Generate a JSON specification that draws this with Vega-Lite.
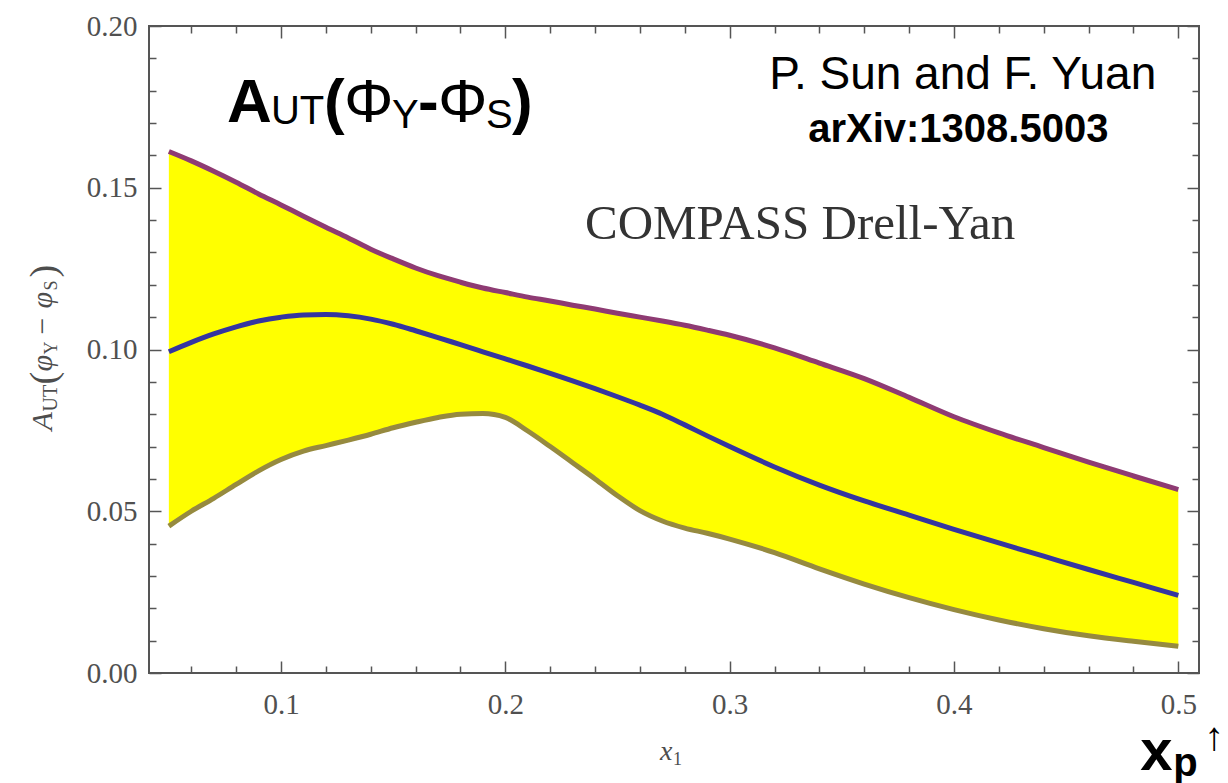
{
  "$schema": "https://vega.github.io/schema/vega-lite/v6.json",
  "width": 1050,
  "height": 647,
  "autosize": {"type": "none"},
  "padding": {"left": 149, "top": 26, "right": 29, "bottom": 110},
  "background": "white",
  "config": {
    "view": {"stroke": "#555555", "strokeWidth": 2},
    "axis": {"grid": false, "domain": false, "title": null, "labelFlush": false, "labelOverlap": false, "labelBound": false, "tickColor": "#555555", "tickWidth": 1.5}
  },
  "datasets": {
    "curve": [
      {"x": 0.05, "lo": 0.0454, "mid": 0.0993, "hi": 0.1612},
      {"x": 0.06, "lo": 0.0500, "mid": 0.1022, "hi": 0.1583},
      {"x": 0.07, "lo": 0.0540, "mid": 0.1048, "hi": 0.1551},
      {"x": 0.08, "lo": 0.0583, "mid": 0.1070, "hi": 0.1517},
      {"x": 0.09, "lo": 0.0625, "mid": 0.1088, "hi": 0.1481},
      {"x": 0.10, "lo": 0.0660, "mid": 0.1100, "hi": 0.1447},
      {"x": 0.11, "lo": 0.0686, "mid": 0.1107, "hi": 0.1412},
      {"x": 0.12, "lo": 0.0703, "mid": 0.1108, "hi": 0.1378},
      {"x": 0.13, "lo": 0.0720, "mid": 0.1104, "hi": 0.1345},
      {"x": 0.14, "lo": 0.0738, "mid": 0.1094, "hi": 0.1310},
      {"x": 0.15, "lo": 0.0758, "mid": 0.1078, "hi": 0.1280},
      {"x": 0.16, "lo": 0.0775, "mid": 0.1058, "hi": 0.1252},
      {"x": 0.17, "lo": 0.0790, "mid": 0.1037, "hi": 0.1228},
      {"x": 0.18, "lo": 0.0800, "mid": 0.1015, "hi": 0.1208},
      {"x": 0.19, "lo": 0.0802, "mid": 0.0993, "hi": 0.1190},
      {"x": 0.20, "lo": 0.0790, "mid": 0.0971, "hi": 0.1176},
      {"x": 0.21, "lo": 0.0748, "mid": 0.0949, "hi": 0.1162},
      {"x": 0.22, "lo": 0.0700, "mid": 0.0926, "hi": 0.1150},
      {"x": 0.23, "lo": 0.0650, "mid": 0.0903, "hi": 0.1137},
      {"x": 0.24, "lo": 0.0600, "mid": 0.0879, "hi": 0.1125},
      {"x": 0.25, "lo": 0.0548, "mid": 0.0854, "hi": 0.1112},
      {"x": 0.26, "lo": 0.0502, "mid": 0.0828, "hi": 0.1100},
      {"x": 0.27, "lo": 0.0470, "mid": 0.0800, "hi": 0.1088},
      {"x": 0.28, "lo": 0.0448, "mid": 0.0767, "hi": 0.1075},
      {"x": 0.29, "lo": 0.0432, "mid": 0.0733, "hi": 0.1060},
      {"x": 0.30, "lo": 0.0414, "mid": 0.0700, "hi": 0.1044},
      {"x": 0.32, "lo": 0.0372, "mid": 0.0637, "hi": 0.1005},
      {"x": 0.34, "lo": 0.0322, "mid": 0.0581, "hi": 0.0958},
      {"x": 0.36, "lo": 0.0275, "mid": 0.0532, "hi": 0.0910},
      {"x": 0.38, "lo": 0.0233, "mid": 0.0488, "hi": 0.0852},
      {"x": 0.40, "lo": 0.0196, "mid": 0.0444, "hi": 0.0792},
      {"x": 0.42, "lo": 0.0164, "mid": 0.0402, "hi": 0.0742},
      {"x": 0.44, "lo": 0.0137, "mid": 0.0361, "hi": 0.0697},
      {"x": 0.46, "lo": 0.0115, "mid": 0.0320, "hi": 0.0652},
      {"x": 0.48, "lo": 0.0098, "mid": 0.0280, "hi": 0.0609},
      {"x": 0.50, "lo": 0.0083, "mid": 0.0240, "hi": 0.0567}
    ],
    "aut": [{"x": 0.0759, "y": 0.1703}],
    "sun": [{"x": 0.3176, "y": 0.1804, "label": "P. Sun and F. Yuan"}],
    "arxiv": [{"x": 0.3350, "y": 0.1641, "label": "arXiv:1308.5003"}],
    "compass": [{"x": 0.2355, "y": 0.1341, "label": "COMPASS Drell-Yan"}],
    "ytitle": [{"x": -0.0021, "y": 0.075}],
    "xtitle": [{"x": 0.269, "y": -0.027}],
    "xp": [{"x": 0.483, "y": -0.0301}]
  },
  "resolve": {"axis": {"x": "independent", "y": "independent"}},
  "layer": [
    {
      "data": {"name": "curve"},
      "mark": {"type": "area", "color": "#FFFF00", "interpolate": "monotone", "opacity": 1},
      "encoding": {
        "x": {"field": "x", "type": "quantitative", "scale": {"domain": [0.04115, 0.50923], "nice": false, "zero": false},
          "axis": {"orient": "bottom", "values": [0.1, 0.2, 0.3, 0.4, 0.5], "format": ".1f", "tickSize": -12, "labelPadding": 29, "labelFont": "Liberation Serif", "labelFontSize": 29, "labelColor": "#505050"}},
        "y": {"field": "lo", "type": "quantitative", "scale": {"domain": [0, 0.2], "nice": false, "zero": false},
          "axis": {"orient": "left", "values": [0, 0.05, 0.1, 0.15, 0.2], "format": ".2f", "tickSize": -12, "labelPadding": 24, "labelFont": "Liberation Serif", "labelFontSize": 29, "labelColor": "#505050"}},
        "y2": {"field": "hi"}
      }
    },
    {
      "data": {"name": "curve"},
      "mark": {"type": "line", "color": "#8E3B73", "strokeWidth": 5, "interpolate": "monotone"},
      "encoding": {
        "x": {"field": "x", "type": "quantitative", "scale": {"domain": [0.04115, 0.50923], "nice": false, "zero": false},
          "axis": {"orient": "bottom", "values": [0.06, 0.08, 0.12, 0.14, 0.16, 0.18, 0.22, 0.24, 0.26, 0.28, 0.32, 0.34, 0.36, 0.38, 0.42, 0.44, 0.46, 0.48], "tickSize": -7, "labels": false}},
        "y": {"field": "hi", "type": "quantitative", "scale": {"domain": [0, 0.2], "nice": false, "zero": false},
          "axis": {"orient": "left", "values": [0.01, 0.02, 0.03, 0.04, 0.06, 0.07, 0.08, 0.09, 0.11, 0.12, 0.13, 0.14, 0.16, 0.17, 0.18, 0.19], "tickSize": -7, "labels": false}}
      }
    },
    {
      "data": {"name": "curve"},
      "mark": {"type": "line", "color": "#3535A0", "strokeWidth": 5, "interpolate": "monotone"},
      "encoding": {
        "x": {"field": "x", "type": "quantitative", "scale": {"domain": [0.04115, 0.50923], "nice": false, "zero": false},
          "axis": {"orient": "top", "values": [0.1, 0.2, 0.3, 0.4, 0.5], "tickSize": -12, "labels": false}},
        "y": {"field": "mid", "type": "quantitative", "scale": {"domain": [0, 0.2], "nice": false, "zero": false},
          "axis": {"orient": "right", "values": [0, 0.05, 0.1, 0.15, 0.2], "tickSize": -12, "labels": false}}
      }
    },
    {
      "data": {"name": "curve"},
      "mark": {"type": "line", "color": "#968A3F", "strokeWidth": 5, "interpolate": "monotone"},
      "encoding": {
        "x": {"field": "x", "type": "quantitative", "scale": {"domain": [0.04115, 0.50923], "nice": false, "zero": false},
          "axis": {"orient": "top", "values": [0.06, 0.08, 0.12, 0.14, 0.16, 0.18, 0.22, 0.24, 0.26, 0.28, 0.32, 0.34, 0.36, 0.38, 0.42, 0.44, 0.46, 0.48], "tickSize": -7, "labels": false}},
        "y": {"field": "lo", "type": "quantitative", "scale": {"domain": [0, 0.2], "nice": false, "zero": false},
          "axis": {"orient": "right", "values": [0.01, 0.02, 0.03, 0.04, 0.06, 0.07, 0.08, 0.09, 0.11, 0.12, 0.13, 0.14, 0.16, 0.17, 0.18, 0.19], "tickSize": -7, "labels": false}}
      }
    },
    {
      "data": {"name": "aut"},
      "encoding": {
        "x": {"field": "x", "type": "quantitative", "axis": null, "scale": {"domain": [0.04115, 0.50923], "nice": false, "zero": false}},
        "y": {"field": "y", "type": "quantitative", "axis": null, "scale": {"domain": [0, 0.2], "nice": false, "zero": false}}
      },
      "layer": [
        {"mark": {"type": "text", "text": "A", "font": "Liberation Sans", "fontWeight": "bold", "fontSize": 62, "align": "left", "baseline": "alphabetic", "color": "#000000", "dx": 0}},
        {"mark": {"type": "text", "text": "UT", "font": "Liberation Sans", "fontWeight": "normal", "fontSize": 40, "align": "left", "baseline": "alphabetic", "color": "#000000", "dx": 44, "dy": 2}},
        {"mark": {"type": "text", "text": "(", "font": "Liberation Sans", "fontWeight": "bold", "fontSize": 62, "align": "left", "baseline": "alphabetic", "color": "#000000", "dx": 97}},
        {"mark": {"type": "text", "text": "Φ", "font": "Liberation Sans", "fontWeight": "normal", "fontSize": 62, "align": "left", "baseline": "alphabetic", "color": "#000000", "dx": 117}},
        {"mark": {"type": "text", "text": "Y", "font": "Liberation Sans", "fontWeight": "normal", "fontSize": 40, "align": "left", "baseline": "alphabetic", "color": "#000000", "dx": 165, "dy": 6}},
        {"mark": {"type": "text", "text": "-", "font": "Liberation Sans", "fontWeight": "bold", "fontSize": 62, "align": "left", "baseline": "alphabetic", "color": "#000000", "dx": 191}},
        {"mark": {"type": "text", "text": "Φ", "font": "Liberation Sans", "fontWeight": "normal", "fontSize": 62, "align": "left", "baseline": "alphabetic", "color": "#000000", "dx": 211}},
        {"mark": {"type": "text", "text": "S", "font": "Liberation Sans", "fontWeight": "normal", "fontSize": 40, "align": "left", "baseline": "alphabetic", "color": "#000000", "dx": 259, "dy": 6}},
        {"mark": {"type": "text", "text": ")", "font": "Liberation Sans", "fontWeight": "bold", "fontSize": 62, "align": "left", "baseline": "alphabetic", "color": "#000000", "dx": 285}}
      ]
    },
    {
      "data": {"name": "sun"},
      "mark": {"type": "text", "font": "Liberation Sans", "fontSize": 46, "align": "left", "baseline": "alphabetic", "color": "#000000"},
      "encoding": {
        "x": {"field": "x", "type": "quantitative", "axis": null, "scale": {"domain": [0.04115, 0.50923], "nice": false, "zero": false}},
        "y": {"field": "y", "type": "quantitative", "axis": null, "scale": {"domain": [0, 0.2], "nice": false, "zero": false}},
        "text": {"field": "label"}
      }
    },
    {
      "data": {"name": "arxiv"},
      "mark": {"type": "text", "font": "Liberation Sans", "fontWeight": "bold", "fontSize": 40, "align": "left", "baseline": "alphabetic", "color": "#000000"},
      "encoding": {
        "x": {"field": "x", "type": "quantitative", "axis": null, "scale": {"domain": [0.04115, 0.50923], "nice": false, "zero": false}},
        "y": {"field": "y", "type": "quantitative", "axis": null, "scale": {"domain": [0, 0.2], "nice": false, "zero": false}},
        "text": {"field": "label"}
      }
    },
    {
      "data": {"name": "compass"},
      "mark": {"type": "text", "font": "Liberation Serif", "fontSize": 49, "align": "left", "baseline": "alphabetic", "color": "#333333"},
      "encoding": {
        "x": {"field": "x", "type": "quantitative", "axis": null, "scale": {"domain": [0.04115, 0.50923], "nice": false, "zero": false}},
        "y": {"field": "y", "type": "quantitative", "axis": null, "scale": {"domain": [0, 0.2], "nice": false, "zero": false}},
        "text": {"field": "label"}
      }
    },
    {
      "data": {"name": "ytitle"},
      "encoding": {
        "x": {"field": "x", "type": "quantitative", "axis": null, "scale": {"domain": [0.04115, 0.50923], "nice": false, "zero": false}},
        "y": {"field": "y", "type": "quantitative", "axis": null, "scale": {"domain": [0, 0.2], "nice": false, "zero": false}}
      },
      "layer": [
        {"mark": {"type": "text", "text": "A", "angle": 270, "font": "Liberation Serif", "fontStyle": "italic", "fontSize": 30, "align": "left", "baseline": "alphabetic", "color": "#4d4d4d", "dx": 0}},
        {"mark": {"type": "text", "text": "UT", "angle": 270, "font": "Liberation Serif", "fontSize": 20, "align": "left", "baseline": "alphabetic", "color": "#4d4d4d", "dx": 19, "dy": 5}},
        {"mark": {"type": "text", "text": "(", "angle": 270, "font": "Liberation Serif", "fontSize": 38, "align": "left", "baseline": "alphabetic", "color": "#4d4d4d", "dx": 46, "dy": 4}},
        {"mark": {"type": "text", "text": "φ", "angle": 270, "font": "Liberation Serif", "fontStyle": "italic", "fontSize": 30, "align": "left", "baseline": "alphabetic", "color": "#4d4d4d", "dx": 59}},
        {"mark": {"type": "text", "text": "Y", "angle": 270, "font": "Liberation Serif", "fontSize": 18, "align": "left", "baseline": "alphabetic", "color": "#4d4d4d", "dx": 76, "dy": 5}},
        {"mark": {"type": "text", "text": "−", "angle": 270, "font": "Liberation Serif", "fontSize": 30, "align": "left", "baseline": "alphabetic", "color": "#4d4d4d", "dx": 96}},
        {"mark": {"type": "text", "text": "φ", "angle": 270, "font": "Liberation Serif", "fontStyle": "italic", "fontSize": 30, "align": "left", "baseline": "alphabetic", "color": "#4d4d4d", "dx": 122}},
        {"mark": {"type": "text", "text": "S", "angle": 270, "font": "Liberation Serif", "fontSize": 18, "align": "left", "baseline": "alphabetic", "color": "#4d4d4d", "dx": 140, "dy": 5}},
        {"mark": {"type": "text", "text": ")", "angle": 270, "font": "Liberation Serif", "fontSize": 38, "align": "left", "baseline": "alphabetic", "color": "#4d4d4d", "dx": 153, "dy": 4}}
      ]
    },
    {
      "data": {"name": "xtitle"},
      "encoding": {
        "x": {"field": "x", "type": "quantitative", "axis": null, "scale": {"domain": [0.04115, 0.50923], "nice": false, "zero": false}},
        "y": {"field": "y", "type": "quantitative", "axis": null, "scale": {"domain": [0, 0.2], "nice": false, "zero": false}}
      },
      "layer": [
        {"mark": {"type": "text", "text": "x", "font": "Liberation Serif", "fontStyle": "italic", "fontSize": 28, "align": "left", "baseline": "alphabetic", "color": "#4d4d4d"}},
        {"mark": {"type": "text", "text": "1", "font": "Liberation Serif", "fontSize": 18, "align": "left", "baseline": "alphabetic", "color": "#4d4d4d", "dx": 13, "dy": 5}}
      ]
    },
    {
      "data": {"name": "xp"},
      "encoding": {
        "x": {"field": "x", "type": "quantitative", "axis": null, "scale": {"domain": [0.04115, 0.50923], "nice": false, "zero": false}},
        "y": {"field": "y", "type": "quantitative", "axis": null, "scale": {"domain": [0, 0.2], "nice": false, "zero": false}}
      },
      "layer": [
        {"mark": {"type": "text", "text": "x", "font": "Liberation Sans", "fontWeight": "bold", "fontSize": 58, "align": "left", "baseline": "alphabetic", "color": "#000000"}},
        {"mark": {"type": "text", "text": "p", "font": "Liberation Sans", "fontWeight": "bold", "fontSize": 40, "align": "left", "baseline": "alphabetic", "color": "#000000", "dx": 33, "dy": 6}},
        {"mark": {"type": "text", "text": "↑", "font": "Liberation Sans", "fontSize": 40, "align": "left", "baseline": "alphabetic", "color": "#000000", "dx": 64, "dy": -20}}
      ]
    }
  ]
}
